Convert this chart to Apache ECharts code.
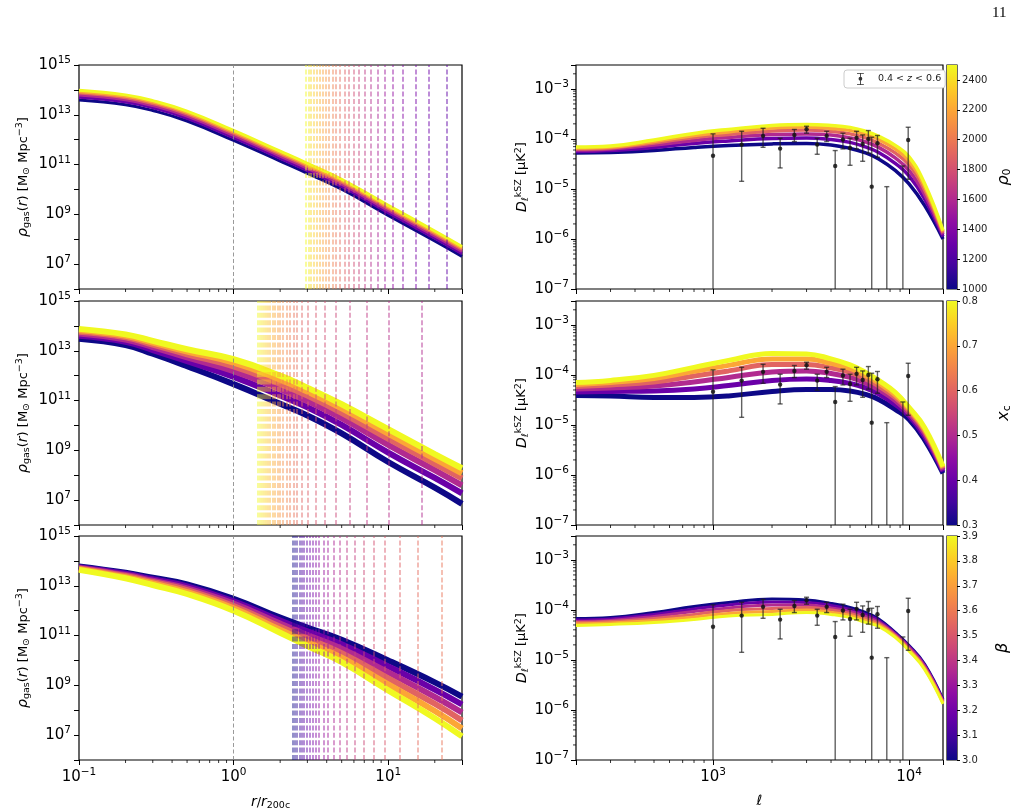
<!DOCTYPE html>
<html>
<head>
<meta charset="utf-8">
<script src="https://cdn.jsdelivr.net/npm/echarts@6/dist/echarts.min.js"></script>
<style>
html, body { margin: 0; padding: 0; background: #fff; }
#main { width: 1021px; height: 812px; }
</style>
</head>
<body>
<div id="main"></div>
<script>
// radii (r/r200c) where the left-hand profiles were read
var rGrid = [0.1, 0.2, 0.3, 0.5, 1, 2, 3, 5, 10, 20, 30];

// log10 rho_gas, one row per parameter value (low -> high)
var rhoByRho0 = [
    [13.59, 13.40, 13.17, 12.75, 11.97, 11.14, 10.65, 10.01, 8.96, 7.93, 7.31],
    [13.70, 13.51, 13.28, 12.86, 12.08, 11.25, 10.76, 10.12, 9.07, 8.04, 7.42],
    [13.79, 13.60, 13.37, 12.95, 12.17, 11.34, 10.85, 10.21, 9.16, 8.13, 7.51],
    [13.87, 13.68, 13.45, 13.03, 12.25, 11.42, 10.93, 10.29, 9.24, 8.21, 7.59],
    [13.93, 13.74, 13.51, 13.09, 12.31, 11.48, 10.99, 10.35, 9.30, 8.27, 7.65],
    [13.99, 13.80, 13.57, 13.15, 12.37, 11.54, 11.05, 10.41, 9.36, 8.33, 7.71]
];
var rhoByXc = [
    [13.48, 13.23, 12.88, 12.38, 11.66, 10.87, 10.40, 9.68, 8.53, 7.50, 6.85],
    [13.60, 13.36, 13.03, 12.58, 11.95, 11.20, 10.73, 10.02, 8.91, 7.89, 7.27],
    [13.69, 13.45, 13.15, 12.73, 12.18, 11.46, 10.98, 10.29, 9.22, 8.20, 7.59],
    [13.76, 13.54, 13.25, 12.86, 12.37, 11.67, 11.20, 10.51, 9.47, 8.46, 7.87],
    [13.82, 13.60, 13.33, 12.97, 12.52, 11.84, 11.36, 10.69, 9.67, 8.66, 8.08],
    [13.88, 13.66, 13.40, 13.06, 12.66, 12.00, 11.52, 10.85, 9.85, 8.85, 8.28]
];
var rhoByBeta = [
    [13.78, 13.52, 13.32, 13.06, 12.48, 11.72, 11.32, 10.83, 10.00, 9.12, 8.55],
    [13.75, 13.48, 13.26, 12.98, 12.38, 11.60, 11.17, 10.65, 9.76, 8.83, 8.23],
    [13.72, 13.43, 13.20, 12.90, 12.29, 11.48, 11.02, 10.47, 9.52, 8.54, 7.91],
    [13.70, 13.39, 13.15, 12.83, 12.19, 11.35, 10.88, 10.29, 9.28, 8.26, 7.59],
    [13.67, 13.34, 13.09, 12.75, 12.10, 11.23, 10.73, 10.11, 9.04, 7.97, 7.27],
    [13.64, 13.30, 13.03, 12.67, 12.00, 11.11, 10.58, 9.93, 8.80, 7.68, 6.95]
];

// outer cut radii (dashed lines) in each left panel
var cutR1 = [2.93, 3.04, 3.16, 3.29, 3.43, 3.58, 3.75, 3.93, 4.14, 4.36, 4.61, 4.89, 5.21, 5.58, 6.0, 6.48, 7.05, 7.73, 8.56, 9.45, 10.7, 12.4, 15.0, 18.4, 23.9];
var cutR2 = [1.43, 1.48, 1.52, 1.57, 1.61, 1.67, 1.72, 1.78, 1.85, 1.92, 2.0, 2.09, 2.19, 2.30, 2.44, 2.57, 2.74, 3.01, 3.40, 3.91, 4.58, 5.62, 7.26, 10.1, 16.4];
var cutR3 = [2.40, 2.48, 2.57, 2.66, 2.76, 2.85, 2.97, 3.09, 3.23, 3.38, 3.55, 3.80, 4.08, 4.45, 4.87, 5.40, 6.07, 6.90, 8.02, 9.55, 11.8, 15.6, 22.3];

// multipoles where the kSZ spectra were read
var ellGrid = [200, 300, 500, 800, 1200, 2000, 3000, 4000, 5000, 6000, 7000, 8500, 10000, 12000, 14900];

// log10 D_ell, one row per parameter value (low -> high)
var dlByRho0 = [
    [-4.28, -4.27, -4.23, -4.17, -4.13, -4.10, -4.09, -4.12, -4.19, -4.28, -4.40, -4.63, -4.90, -5.33, -6.00],
    [-4.25, -4.23, -4.17, -4.09, -4.04, -3.99, -3.98, -4.01, -4.07, -4.16, -4.27, -4.49, -4.74, -5.20, -5.95],
    [-4.22, -4.20, -4.12, -4.03, -3.97, -3.91, -3.90, -3.92, -3.98, -4.06, -4.17, -4.38, -4.63, -5.11, -5.91],
    [-4.20, -4.18, -4.08, -3.97, -3.91, -3.84, -3.82, -3.85, -3.90, -3.98, -4.09, -4.28, -4.52, -5.02, -5.88],
    [-4.18, -4.16, -4.05, -3.93, -3.86, -3.78, -3.76, -3.79, -3.83, -3.91, -4.01, -4.20, -4.44, -4.95, -5.85],
    [-4.16, -4.14, -4.02, -3.89, -3.81, -3.73, -3.71, -3.73, -3.77, -3.85, -3.95, -4.13, -4.36, -4.89, -5.83]
];
var dlByXc = [
    [-4.41, -4.42, -4.45, -4.45, -4.42, -4.33, -4.29, -4.29, -4.32, -4.39, -4.49, -4.69, -4.89, -5.30, -5.97],
    [-4.34, -4.33, -4.32, -4.28, -4.21, -4.11, -4.08, -4.11, -4.17, -4.26, -4.38, -4.59, -4.82, -5.23, -5.93],
    [-4.28, -4.26, -4.22, -4.14, -4.05, -3.94, -3.92, -3.97, -4.05, -4.16, -4.29, -4.51, -4.77, -5.17, -5.90],
    [-4.23, -4.20, -4.14, -4.02, -3.92, -3.79, -3.79, -3.86, -3.95, -4.08, -4.22, -4.45, -4.72, -5.12, -5.87],
    [-4.19, -4.15, -4.07, -3.93, -3.81, -3.68, -3.68, -3.77, -3.87, -4.01, -4.16, -4.40, -4.68, -5.09, -5.85],
    [-4.15, -4.11, -4.01, -3.85, -3.71, -3.57, -3.58, -3.68, -3.80, -3.95, -4.11, -4.35, -4.65, -5.05, -5.83]
];
var dlByBeta = [
    [-4.17, -4.15, -4.05, -3.93, -3.85, -3.78, -3.80, -3.87, -3.95, -4.05, -4.18, -4.45, -4.71, -5.08, -5.79],
    [-4.20, -4.18, -4.09, -3.98, -3.90, -3.84, -3.85, -3.91, -3.99, -4.09, -4.21, -4.47, -4.73, -5.10, -5.81],
    [-4.23, -4.21, -4.13, -4.03, -3.96, -3.90, -3.90, -3.96, -4.03, -4.13, -4.24, -4.49, -4.75, -5.12, -5.83],
    [-4.25, -4.23, -4.17, -4.09, -4.01, -3.97, -3.95, -4.00, -4.07, -4.17, -4.27, -4.51, -4.78, -5.15, -5.84],
    [-4.28, -4.26, -4.21, -4.14, -4.07, -4.03, -4.00, -4.05, -4.11, -4.21, -4.30, -4.53, -4.80, -5.17, -5.86],
    [-4.31, -4.29, -4.25, -4.19, -4.12, -4.09, -4.05, -4.09, -4.15, -4.25, -4.33, -4.55, -4.82, -5.19, -5.88]
];

// measured kSZ band powers 0.4<z<0.6 (null = below the plotted range)
var obsEll = [1000, 1400, 1800, 2200, 2600, 3000, 3400, 3800, 4200, 4600, 5000, 5400, 5800, 6200, 6450, 6900, 7700, 9300, 9900];
var obsD   = [4.6e-5, 7.7e-5, 1.15e-4, 6.4e-5, 1.2e-4, 1.56e-4, 7.7e-5, 1.15e-4, 2.88e-5, 9.7e-5, 6.6e-5, 1.05e-4, 7.9e-5, 1.0e-4, 1.11e-5, 8.2e-5, null, null, 9.5e-5];
var obsLo  = [null, 1.42e-5, 6.8e-5, 2.63e-5, 8.85e-5, 1.3e-4, 4.93e-5, 8.85e-5, null, 6.3e-5, 2.97e-5, 6.3e-5, 3.57e-5, 5.2e-5, null, 4.3e-5, null, null, 1.56e-5];
var obsHi  = [1.26e-4, 1.42e-4, 1.63e-4, 1.03e-4, 1.54e-4, 1.79e-4, 1.03e-4, 1.42e-4, 5.85e-5, 1.3e-4, 1.03e-4, 1.42e-4, 1.2e-4, 1.47e-4, 1.08e-4, 1.17e-4, 1.11e-5, 2.88e-5, 1.71e-4];

// colour bar ranges
var cbRho0 = [1000, 2500, 200];
var cbXc = [0.3, 0.8, 0.1];
var cbBeta = [3.0, 3.9, 0.1];

var FONT = 'DejaVu Sans';
var PLASMA = ['#0d0887', '#41049d', '#6a00a8', '#8f0da4', '#b12a90', '#cc4778',
              '#e16462', '#f2844b', '#fca636', '#fcce25', '#f0f921'];

function hexRgb(h) {
    return [parseInt(h.substr(1, 2), 16), parseInt(h.substr(3, 2), 16), parseInt(h.substr(5, 2), 16)];
}
function plasma(t) {
    t = Math.max(0, Math.min(1, t));
    var p = t * 10, i = Math.min(9, Math.floor(p)), f = p - i;
    var a = hexRgb(PLASMA[i]), b = hexRgb(PLASMA[i + 1]);
    var c = [0, 1, 2].map(function (k) { return Math.round(a[k] + (b[k] - a[k]) * f); });
    return 'rgb(' + c.join(',') + ')';
}

var powRich = {
    b: { fontSize: 15, fontFamily: FONT, color: '#000' },
    e: { fontSize: 10.5, fontFamily: FONT, color: '#000', padding: [0, 0, 9, 0] }
};
function powLabel(v) {
    var e = Math.log10(v), r = Math.round(e);
    if (Math.abs(e - r) > 1e-6) return '';
    return '{b|10}{e|' + (r < 0 ? '\u2212' + (-r) : r) + '}';
}
function powLabelOdd(v) {
    var e = Math.log10(v), r = Math.round(e);
    if (Math.abs(e - r) > 1e-6 || Math.abs(r % 2) !== 1) return '';
    return powLabel(v);
}

var nameRich = {
    i: { fontStyle: 'italic', fontSize: 14, fontFamily: FONT },
    s: { fontSize: 9.5, fontFamily: FONT, padding: [7, 0, 0, 0] },
    p: { fontSize: 9.5, fontFamily: FONT, padding: [0, 0, 7, 0] }
};

// layout of the 9 grids
var TOPS = [65, 301, 536];
var H = 224;
var grids = [];
TOPS.forEach(function (t) {
    grids.push({ left: 79, top: t, width: 383, height: H });
    grids.push({ left: 576, top: t, width: 367, height: H });
    grids.push({ left: 947, top: t, width: 10, height: H });
});
grids = grids.map(function (g) {
    return { left: g.left, top: g.top, width: g.width, height: g.height,
             show: true, borderColor: '#000', borderWidth: 1.2, backgroundColor: 'rgba(0,0,0,0)' };
});

var tickStyle = { show: true, length: 5, lineStyle: { color: '#000', width: 1 } };

var xAxes = [], yAxes = [];
for (var row = 0; row < 3; row++) {
    var last = row === 2;
    // left panel
    xAxes.push({
        type: 'log', gridIndex: row * 3, min: 0.1, max: 30,
        axisLine: { show: false }, axisTick: tickStyle, splitLine: { show: false },
        axisLabel: { show: last, formatter: powLabel, rich: powRich, margin: 7, interval: 0 },
        name: last ? '{i|r}/{i|r}{s|200c}' : '', nameLocation: 'middle', nameGap: 34,
        nameTextStyle: { fontSize: 13, fontFamily: FONT, color: '#000', rich: nameRich }
    });
    yAxes.push({
        type: 'log', gridIndex: row * 3, min: 1e6, max: 1e15,
        axisLine: { show: false }, axisTick: tickStyle, splitLine: { show: false },
        axisLabel: { formatter: powLabelOdd, rich: powRich, margin: 8, interval: 0 },
        name: '{i|\u03c1}{s|gas}({i|r}) [M{s|\u2299} Mpc{p|\u22123}]', nameLocation: 'middle', nameGap: 47, nameRotate: 90,
        nameTextStyle: { fontSize: 13, fontFamily: FONT, color: '#000', rich: nameRich }
    });
    // right panel
    xAxes.push({
        type: 'log', gridIndex: row * 3 + 1, min: 200, max: 14900,
        axisLine: { show: false }, axisTick: tickStyle, splitLine: { show: false },
        axisLabel: { show: last, formatter: powLabel, rich: powRich, margin: 7, interval: 0 },
        name: last ? '{i|\u2113}' : '', nameLocation: 'middle', nameGap: 34,
        nameTextStyle: { fontSize: 14, fontFamily: FONT, color: '#000', rich: nameRich }
    });
    yAxes.push({
        type: 'log', gridIndex: row * 3 + 1, min: 1e-7, max: 3e-3,
        axisLine: { show: false }, axisTick: tickStyle, splitLine: { show: false },
        axisLabel: { formatter: powLabel, rich: powRich, margin: 7, interval: 0 },
        name: '{i|D}{s|\u2113}{p|kSZ} [\u03bcK{p|2}]', nameLocation: 'middle', nameGap: 30, nameRotate: 90,
        nameTextStyle: { fontSize: 13, fontFamily: FONT, color: '#000', rich: nameRich }
    });
    // colour bar
    var cb = [cbRho0, cbXc, cbBeta][row];
    var cbName = ['{i|\u03c1}{s|0}', '{i|x}{s|c}', '{i|\u03b2}'][row];
    xAxes.push({ type: 'value', gridIndex: row * 3 + 2, min: 0, max: 1, show: false });
    yAxes.push({
        type: 'value', gridIndex: row * 3 + 2, position: 'right', min: cb[0], max: cb[1], interval: cb[2],
        axisLine: { show: false, onZero: false },
        axisTick: { show: true, length: 3, lineStyle: { color: '#000', width: 1 } },
        splitLine: { show: false },
        axisLabel: {
            fontSize: 10, fontFamily: FONT, color: '#222', margin: 5,
            showMaxLabel: row !== 0,
            formatter: (function (step) {
                return function (v) { return step >= 1 ? String(Math.round(v)) : v.toFixed(1); };
            })(cb[2])
        },
        name: cbName, nameLocation: 'middle', nameGap: 38, nameRotate: 90,
        nameTextStyle: { fontSize: 15, fontFamily: FONT, color: '#000',
            rich: { i: { fontStyle: 'italic', fontSize: 16, fontFamily: FONT },
                    s: { fontSize: 11, fontFamily: FONT, padding: [7, 0, 0, 0] } } }
    });
}

var series = [];

function curveFamily(gi, xs, rows, width) {
    return rows.map(function (row, k) {
        return {
            type: 'line', xAxisIndex: gi, yAxisIndex: gi, silent: true, animation: false,
            showSymbol: false, smooth: 0.45,
            lineStyle: { color: plasma(k / (rows.length - 1)), width: width, cap: 'butt' },
            data: xs.map(function (x, j) { return [x, Math.pow(10, row[j])]; }),
            z: 2
        };
    });
}

function cutLines(cuts, t0, t1) {
    var items = [{ xAxis: 1, lineStyle: { color: '#888', width: 1, type: [4, 2.5], opacity: 0.85 } }];
    cuts.forEach(function (c, i) {
        var t = t0 + (t1 - t0) * i / (cuts.length - 1);
        items.push({ xAxis: c, lineStyle: { color: plasma(t), width: 1.5, type: [5, 2.4], opacity: 0.6 } });
    });
    return { silent: true, symbol: ['none', 'none'], label: { show: false }, animation: false, data: items };
}

function minorTicks(gi, dir, vals, ref) {
    return {
        type: 'custom', xAxisIndex: gi, yAxisIndex: gi, silent: true, clip: false, animation: false, z: 6,
        data: vals.map(function (v) { return dir === 'x' ? [v, ref] : [ref, v]; }),
        renderItem: function (params, api) {
            var cs = params.coordSys;
            var p = api.coord([api.value(0), api.value(1)]);
            var shape = dir === 'x'
                ? { x1: p[0], y1: cs.y + cs.height, x2: p[0], y2: cs.y + cs.height + 3 }
                : { x1: cs.x, y1: p[1], x2: cs.x - 3, y2: p[1] };
            return { type: 'line', shape: shape, style: { stroke: '#000', lineWidth: 0.8 } };
        }
    };
}

function colorBar(gi, range) {
    var stops = PLASMA.map(function (c, i) { return { offset: i / 10, color: c }; });
    return {
        type: 'custom', xAxisIndex: gi, yAxisIndex: gi, silent: true, animation: false,
        data: [[0.5, range[0]]],
        renderItem: function (params) {
            var cs = params.coordSys;
            return { type: 'rect', shape: { x: cs.x, y: cs.y, width: cs.width, height: cs.height },
                     style: { fill: new echarts.graphic.LinearGradient(0, 1, 0, 0, stops) } };
        }
    };
}

function errorBars(gi, name) {
    return {
        type: 'custom', name: name, xAxisIndex: gi, yAxisIndex: gi, animation: false, z: 8,
        itemStyle: { color: '#333' },
        encode: { x: 0, y: 3 },
        data: obsEll.map(function (l, i) { return [l, obsD[i], obsLo[i], obsHi[i]]; }),
        renderItem: function (params, api) {
            var cs = params.coordSys;
            var l = api.value(0), d = api.value(1), lo = api.value(2), hi = api.value(3);
            var top = api.coord([l, hi]);
            var x = top[0];
            var yLo = lo > 0 ? api.coord([l, lo])[1] : cs.y + cs.height;
            var st = { stroke: 'rgba(30,30,30,0.7)', lineWidth: 1.4 };
            var kids = [
                { type: 'line', shape: { x1: x, y1: top[1], x2: x, y2: yLo }, style: st },
                { type: 'line', shape: { x1: x - 2.5, y1: top[1], x2: x + 2.5, y2: top[1] }, style: st }
            ];
            if (lo > 0) kids.push({ type: 'line', shape: { x1: x - 2.5, y1: yLo, x2: x + 2.5, y2: yLo }, style: st });
            if (d > 0) kids.push({ type: 'circle', shape: { cx: x, cy: api.coord([l, d])[1], r: 2.2 },
                                   style: { fill: 'rgba(20,20,20,0.85)' } });
            return { type: 'group', children: kids };
        }
    };
}

var leftRows = [rhoByRho0, rhoByXc, rhoByBeta];
var rightRows = [dlByRho0, dlByXc, dlByBeta];
var cuts = [[cutR1, 1, 0.17], [cutR2, 1, 0.4], [cutR3, 0, 0.65]];
var cbs = [cbRho0, cbXc, cbBeta];
var leftW = [3, 6, 6];
var rightW = [3.5, 5, 3];

var xMinorL = [0.2, 0.3, 0.4, 0.5, 0.6, 0.7, 0.8, 0.9, 2, 3, 4, 5, 6, 7, 8, 9, 20];
var xMinorR = [300, 400, 500, 600, 700, 800, 900, 2000, 3000, 4000, 5000, 6000, 7000, 8000, 9000];
var yMinorR = [];
[-7, -6, -5, -4, -3].forEach(function (n) {
    for (var k = 2; k <= 9; k++) {
        var v = k * Math.pow(10, n);
        if (v < 3e-3) yMinorR.push(v);
    }
});

for (var r = 0; r < 3; r++) {
    var gl = r * 3, gr = r * 3 + 1, gc = r * 3 + 2;
    var fam = curveFamily(gl, rGrid, leftRows[r], leftW[r]);
    fam[fam.length - 1].markLine = cutLines(cuts[r][0], cuts[r][1], cuts[r][2]);
    series = series.concat(fam);
    series.push(minorTicks(gl, 'x', xMinorL, 1e10));

    series = series.concat(curveFamily(gr, ellGrid, rightRows[r], rightW[r]));
    series.push(errorBars(gr, '0.4 < z < 0.6'));
    series.push(minorTicks(gr, 'x', xMinorR, 1e-5));
    series.push(minorTicks(gr, 'y', yMinorR, 1000));

    series.push(colorBar(gc, cbs[r]));
}

var chart = echarts.init(document.getElementById('main'), null, { renderer: 'canvas' });
chart.setOption({
    backgroundColor: '#fff',
    animation: false,
    textStyle: { fontFamily: FONT },
    grid: grids,
    xAxis: xAxes,
    yAxis: yAxes,
    legend: {
        data: [{ name: '0.4 < z < 0.6',
                 icon: 'path://M0,0H8V1H0Z M3.5,1H4.5V13H3.5Z M0,13H8V14H0Z M4,4.5A2.2,2.2 0 1 1 4,8.9A2.2,2.2 0 1 1 4,4.5Z' }],
        left: 844, top: 70, orient: 'horizontal',
        itemWidth: 7, itemHeight: 12, itemGap: 6,
        padding: [3, 4, 3, 13],
        backgroundColor: '#fff', borderColor: '#ccc', borderWidth: 1, borderRadius: 3,
        selectedMode: false,
        formatter: function () { return '   0.4 < {i|z} < 0.6'; },
        textStyle: { fontSize: 9.5, fontFamily: FONT, color: '#222',
                     rich: { i: { fontStyle: 'italic', fontSize: 9.5, fontFamily: FONT } } }
    },
    graphic: [{
        type: 'text', left: 992, top: 6,
        style: { text: '11', font: '15px "Liberation Serif"', fill: '#000' }
    }],
    series: series
});
</script>
</body>
</html>
